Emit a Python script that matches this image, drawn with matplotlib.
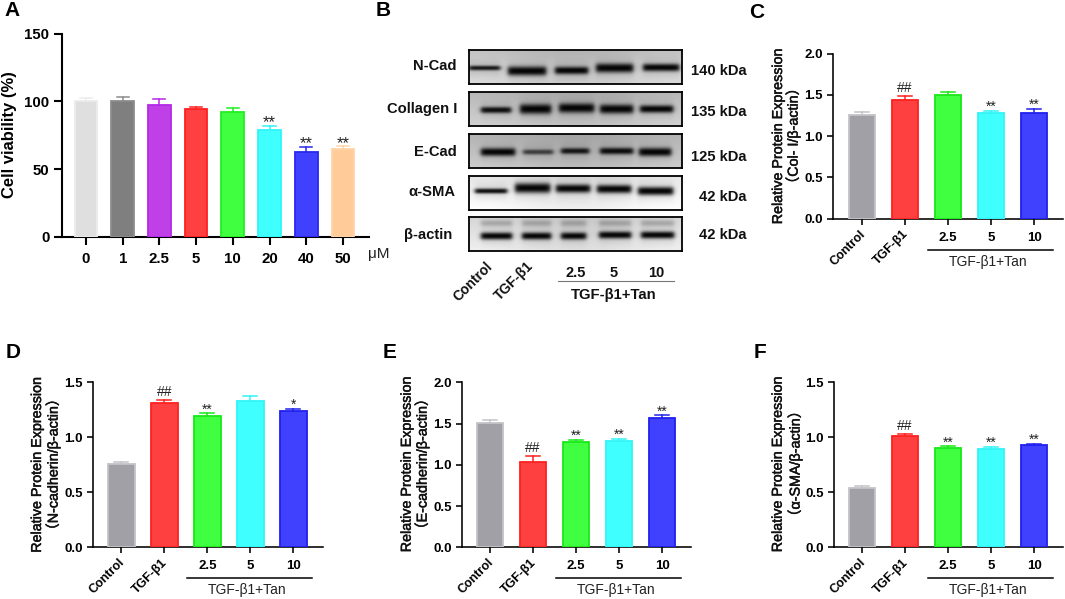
import matplotlib
matplotlib.use("Agg")
import matplotlib.pyplot as plt
import matplotlib.patheffects as pe
from matplotlib.transforms import ScaledTranslation
import numpy as np

plt.rcParams["font.family"] = ["Liberation Sans", "Noto Sans CJK SC", "DejaVu Sans"]

W, H = 1065, 599

# --- Data ---
dose_labels = ["0", "1", "2.5", "5", "10", "20", "40", "50"]
viability = [100, 100, 97.2, 94, 92.3, 79, 63, 65]
viability_top = [102.8, 103, 102, 96, 94.8, 82, 66.3, 67]
viability_sig = ["", "", "", "", "", "**", "**", "**"]

group_labels = ["Control", "TGF-β1", "2.5", "5", "10"]

col1 = [1.26, 1.44, 1.50, 1.285, 1.277]
col1_top = [1.29, 1.49, 1.54, 1.305, 1.333]
col1_sig = ["", "##", "", "**", "**"]

ncad = [0.755, 1.315, 1.194, 1.333, 1.24]
ncad_top = [0.773, 1.336, 1.218, 1.373, 1.255]
ncad_sig = ["", "##", "**", "", "*"]

ecad = [1.51, 1.038, 1.277, 1.285, 1.568]
ecad_top = [1.547, 1.103, 1.305, 1.317, 1.60]
ecad_sig = ["", "##", "**", "**", "**"]

sma = [0.542, 1.012, 0.90, 0.897, 0.927]
sma_top = [0.555, 1.033, 0.918, 0.912, 0.939]
sma_sig = ["", "##", "**", "**", "**"]

# fill, edge
a_colors = [("#dfdfdf", "#ececec"), ("#7f7f7f", "#8c8c8c"), ("#c040e8", "#b428e6"),
            ("#ff4040", "#ff2020"), ("#40ff40", "#20f020"), ("#40ffff", "#30f4f8"),
            ("#4040ff", "#2828f0"), ("#ffcc99", "#ffd4a8")]
g_colors = [("#a0a0a6", "#c4c4c8"), ("#ff4040", "#ff2020"), ("#40ff40", "#18e818"),
            ("#40ffff", "#30f4f8"), ("#4040ff", "#2020ee")]

# blot bands: start, end, half height, centre, darkness (px inside each box)
blots = {
    "N-Cad": [(0, 31, 2.4, 18, 0.9), (39, 77, 4.6, 21, 1), (86, 119, 3.8, 20.5, 1), (127, 164, 4.6, 18, 1), (174, 210, 3.8, 17.5, 1)],
    "Collagen I": [(12, 42, 3.2, 18, 0.95), (51, 82, 5, 17, 1), (90, 125, 4.8, 16, 1), (131, 164, 4.6, 17, 1), (171, 204, 3.8, 17, 1)],
    "E-Cad": [(12, 46, 4, 18, 1), (54, 84, 2.6, 18, 0.65), (92, 120, 3, 17, 0.9), (131, 164, 3.4, 17, 0.95), (170, 202, 4.2, 18, 1)],
    "a-SMA": [(6, 38, 2.6, 15, 0.95), (46, 81, 5, 12, 1), (87, 121, 4.2, 12.5, 1), (128, 162, 4.2, 13, 1), (169, 204, 4.2, 15, 1)],
    "actin": [(12, 43, 3.6, 19, 1), (53, 82, 3.6, 19, 1), (92, 117, 3.6, 19, 1), (130, 162, 3.6, 18, 1), (172, 205, 3.6, 18, 1)],
}
blot_tops = [50, 92, 134, 176.3, 217.3]
blot_bg = [0.78, 0.74, 0.72, 0.92, 0.86]

blot_names = [("N-Cad", 434.7, 66), ("Collagen I", 422.3, 109), ("E-Cad", 435, 152),
              ("α-SMA", 432, 191.7), ("β-actin", 428, 235)]
kda_names = [("140 kDa", 719, 71), ("135 kDa", 719, 112), ("125 kDa", 719, 156.7),
             ("42 kDa", 723, 196.7), ("42 kDa", 723, 235)]

fig = plt.figure(figsize=(W / 100, H / 100), dpi=100)


def ptext(x, y, s, **kw):
    kw.setdefault("ha", "center")
    kw.setdefault("va", "center")
    return fig.text(x / W, 1 - y / H, s, **kw)


def bar_panel(x0, x1, y_top, y_zero, first, step, vals, tops, sig, colors, labels,
              ymax, yticks, fmt, tick_fs, lw, tlen, star_fs):
    ax = fig.add_axes([x0 / W, 1 - y_zero / H, (x1 - x0) / W, (y_zero - y_top) / H])
    xs = np.arange(len(vals))
    ax.set_xlim((x0 - first) / step, (x1 - first) / step)
    ax.set_ylim(0, ymax)
    ax.patch.set_alpha(0)

    for x, v, t, s, (fc, ec) in zip(xs, vals, tops, sig, colors):
        ax.plot([x, x], [v, t], color=ec, lw=1.1, zorder=2)
        ax.plot([x - 0.165, x + 0.165], [t, t], color=ec, lw=1.1, zorder=2)
        ax.bar(x, v, width=0.62, color=fc, edgecolor=ec, linewidth=1.3, zorder=3)
        if s == "##":
            ax.annotate(s, (x, t), xytext=(0, 3), textcoords="offset points",
                        ha="center", va="baseline", fontsize=10, color="#222222")
        elif s:
            # star glyph sits about 0.56 em above its baseline
            off = 5.6 - 0.56 * star_fs
            ax.annotate(s, (x, t), xytext=(0, off), textcoords="offset points",
                        ha="center", va="baseline", fontsize=star_fs, color="#222222")

    for name in ["top", "right"]:
        ax.spines[name].set_visible(False)
    for name in ["left", "bottom"]:
        ax.spines[name].set_linewidth(lw)
    ax.set_yticks(yticks)
    ax.set_yticklabels([fmt % t for t in yticks], fontweight="bold", fontsize=tick_fs)
    ax.set_xticks(xs)
    ax.set_xticklabels(labels, fontweight="bold", fontsize=tick_fs)
    ax.tick_params(width=lw, length=tlen, pad=3)
    ax.tick_params(axis="x", pad=5)
    return ax


def group_panel(x0, x1, y_top, first, vals, tops, sig, ymax, yticks):
    ax = bar_panel(x0, x1, y_top, y_top + 165, first, 43, vals, tops, sig, g_colors,
                   group_labels, ymax, yticks, "%.1f", 9.5, 1.15, 4.3, 10)
    shift = ScaledTranslation(-2 / 72, 2.5 / 72, fig.dpi_scale_trans)
    for lab in ax.get_xticklabels()[:2]:
        lab.set_rotation(45)
        lab.set_ha("right")
        lab.set_rotation_mode("anchor")
        lab.set_fontsize(9)
        lab.set_transform(lab.get_transform() + shift)
    # bracket under the three Tan doses
    by = -31 / 165
    ax.plot([1.53, 4.44], [by, by], transform=ax.get_xaxis_transform(), color="black",
            lw=1.1, clip_on=False)
    ax.text(2.93, -43 / 165, "TGF-β1+Tan", transform=ax.get_xaxis_transform(),
            ha="center", va="center", fontsize=10, color="#222222")
    return ax


# --- Panel A ---
bar_panel(61.5, 369, 33.5, 237, 86, 36.7, viability, viability_top, viability_sig, a_colors,
          dose_labels, 150, [0, 50, 100, 150], "%d", 10.8, 1.5, 5.8, 12)
ptext(9.5, 135, "Cell viability (%)", rotation=90, fontweight="bold", fontsize=12)
ptext(379, 254, "μM", fontsize=11, color="#222222")

# --- Panels C to F ---
group_panel(832.7, 1063, 53.7, 862, col1, col1_top, col1_sig, 2.0, [0, 0.5, 1.0, 1.5, 2.0])
group_panel(92.7, 322.7, 382.3, 121.3, ncad, ncad_top, ncad_sig, 1.5, [0, 0.5, 1.0, 1.5])
group_panel(461.7, 691, 382.3, 490, ecad, ecad_top, ecad_sig, 2.0, [0, 0.5, 1.0, 1.5, 2.0])
group_panel(833.7, 1063.3, 382.3, 862, sma, sma_top, sma_sig, 1.5, [0, 0.5, 1.0, 1.5])

ylab = "Relative Protein Expression"
heavy = [pe.withStroke(linewidth=0.35, foreground="#111111")]
for x1, x2, yc, second in [
    (778, 793, 136, "（Col- I/β-actin）"),
    (37, 53, 464.5, "（N-cadherin/β-actin）"),
    (406.7, 422, 464, "（E-cadherin/β-actin）"),
    (777.7, 795, 464, "（α-SMA/β-actin）"),
]:
    ptext(x1, yc, ylab, rotation=90, rotation_mode="anchor", fontsize=10.3, color="#111111",
          path_effects=heavy)
    ptext(x2, yc, second, rotation=90, rotation_mode="anchor", fontsize=10.3, color="#111111",
          path_effects=heavy)

# --- Panel B, western blot boxes ---
for (name, bands), top, bg in zip(blots.items(), blot_tops, blot_bg):
    ax = fig.add_axes([469.3 / W, 1 - (top + 34) / H, 212.7 / W, 34 / H])
    yy, xx = np.mgrid[0:34:136j, 0:212.7:851j]
    # background gets a little lighter towards the bottom of the membrane
    img = bg + 0.10 * (yy / 34 - 0.5) + 0.03 * np.cos(xx / 212.7 * 2 * np.pi)
    for start, end, half, cy, dark in bands:
        across = 0.5 * (np.tanh((xx - start) / 2.5) - np.tanh((xx - end) / 2.5))
        img = img * (1 - 0.97 * dark * across * np.exp(-(np.abs(yy - cy) / half) ** 2.4))
        img = img * (1 - 0.10 * across * np.exp(-((yy - cy) / (half + 5)) ** 2))
        if name == "actin":
            # faint upper band
            img = img * (1 - 0.22 * across * np.exp(-((yy - 6) / 3.5) ** 2))
    ax.imshow(img, cmap="gray", vmin=0, vmax=1, aspect="auto", extent=[0, 212.7, 34, 0])
    ax.set_xticks([])
    ax.set_yticks([])
    for sp in ax.spines.values():
        sp.set_linewidth(1.3)

for s, x, y in blot_names + kda_names:
    ptext(x, y, s, fontweight="bold", fontsize=10.6, color="#111111")

ptext(473, 282, "Control", rotation=45, fontweight="bold", fontsize=10, color="#111111")
ptext(514, 281, "TGF-β1", rotation=45, fontweight="bold", fontsize=10, color="#111111")
for s, x in [("2.5", 576), ("5", 614), ("10", 656)]:
    ptext(x, 272.7, s, fontweight="bold", fontsize=10.5, color="#111111")
fig.add_artist(plt.Line2D([558 / W, 674 / W], [1 - 281 / H, 1 - 281 / H], color="#777777", lw=0.8))
ptext(614, 295, "TGF-β1+Tan", fontweight="bold", fontsize=10.7, color="#111111")

# --- Panel letters ---
for s, x, y in [("A", 12, 11), ("B", 383, 11), ("C", 757, 12),
                ("D", 13, 352.7), ("E", 390, 353), ("F", 760, 353)]:
    ptext(x, y, s, fontweight="bold", fontsize=15)

fig.savefig("out.png", dpi=100)
